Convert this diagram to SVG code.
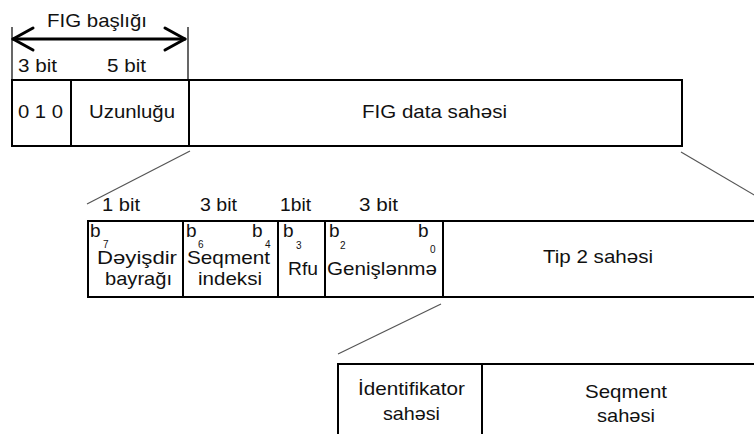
<svg xmlns="http://www.w3.org/2000/svg" width="754" height="434" viewBox="0 0 754 434">
<style>
text{font-family:"Liberation Sans",Arial,sans-serif;font-size:19px;fill:#111}
.sub{font-size:10px}
.box{fill:#fff;stroke:#000;stroke-width:2}
.div{stroke:#000;stroke-width:2}
.diag{stroke:#555;stroke-width:1.2;fill:none}
.arr{stroke:#000;stroke-width:3;fill:none;stroke-linecap:round;stroke-linejoin:round}
.tick{stroke:#000;stroke-width:1.2}
</style>
<rect width="754" height="434" fill="#fff"/>
<g id="connectors">
<line class="diag" x1="190" y1="151" x2="87" y2="204"/>
<line class="diag" x1="681" y1="152" x2="790" y2="216"/>
<line class="diag" x1="441" y1="304" x2="338" y2="354"/>
</g>
<g id="header">
<line class="tick" x1="12" y1="27" x2="12" y2="80"/>
<line class="tick" x1="188" y1="27" x2="188" y2="80"/>
<line class="arr" x1="13" y1="39" x2="185" y2="39"/>
<polyline class="arr" points="33,28 13,39 33,50"/>
<polyline class="arr" points="165,28 185,39 165,50"/>
<text x="47" y="27" textLength="100" lengthAdjust="spacingAndGlyphs">FIG başlığı</text>
<text x="18" y="72" textLength="39" lengthAdjust="spacingAndGlyphs">3 bit</text>
<text x="107" y="72" textLength="39" lengthAdjust="spacingAndGlyphs">5 bit</text>
</g>
<g id="row1">
<rect class="box" x="12" y="80" width="670" height="66"/>
<line class="div" x1="71" y1="80" x2="71" y2="146"/>
<line class="div" x1="189" y1="80" x2="189" y2="146"/>
<text x="18" y="118" textLength="45" lengthAdjust="spacingAndGlyphs">0 1 0</text>
<text x="89" y="118" textLength="86" lengthAdjust="spacingAndGlyphs">Uzunluğu</text>
<text x="362" y="118" textLength="145" lengthAdjust="spacingAndGlyphs">FIG data sahəsi</text>
</g>
<g id="row2">
<text x="102" y="211" textLength="38" lengthAdjust="spacingAndGlyphs">1 bit</text>
<text x="200" y="211" textLength="37" lengthAdjust="spacingAndGlyphs">3 bit</text>
<text x="280" y="211" textLength="31" lengthAdjust="spacingAndGlyphs">1bit</text>
<text x="359" y="211" textLength="39" lengthAdjust="spacingAndGlyphs">3 bit</text>
<rect class="box" x="88" y="221" width="700" height="76"/>
<line class="div" x1="183" y1="221" x2="183" y2="297"/>
<line class="div" x1="278" y1="221" x2="278" y2="297"/>
<line class="div" x1="325" y1="221" x2="325" y2="297"/>
<line class="div" x1="443" y1="221" x2="443" y2="297"/>
<text x="90" y="237">b</text><text class="sub" x="103" y="248">7</text>
<text x="186" y="237">b</text><text class="sub" x="198" y="248">6</text>
<text x="252" y="237">b</text><text class="sub" x="265" y="248">4</text>
<text x="283" y="237">b</text><text class="sub" x="296" y="249">3</text>
<text x="329" y="237">b</text><text class="sub" x="340" y="249">2</text>
<text x="418" y="237">b</text><text class="sub" x="430" y="253">0</text>
<text x="97" y="264" textLength="80" lengthAdjust="spacingAndGlyphs">Dəyişdir</text>
<text x="105" y="285" textLength="67" lengthAdjust="spacingAndGlyphs">bayrağı</text>
<text x="187" y="264" textLength="83" lengthAdjust="spacingAndGlyphs">Seqment</text>
<text x="198" y="285" textLength="64" lengthAdjust="spacingAndGlyphs">indeksi</text>
<text x="288" y="275" textLength="30" lengthAdjust="spacingAndGlyphs">Rfu</text>
<text x="327" y="275" textLength="110" lengthAdjust="spacingAndGlyphs">Genişlənmə</text>
<text x="543" y="263" textLength="110" lengthAdjust="spacingAndGlyphs">Tip 2 sahəsi</text>
</g>
<g id="row3">
<rect class="box" x="338" y="364" width="450" height="100"/>
<line class="div" x1="482" y1="364" x2="482" y2="434"/>
<text x="358" y="395" textLength="107" lengthAdjust="spacingAndGlyphs">İdentifikator</text>
<text x="383" y="420" textLength="57" lengthAdjust="spacingAndGlyphs">sahəsi</text>
<text x="585" y="398" textLength="82" lengthAdjust="spacingAndGlyphs">Seqment</text>
<text x="597" y="422" textLength="58" lengthAdjust="spacingAndGlyphs">sahəsi</text>
</g>
</svg>
